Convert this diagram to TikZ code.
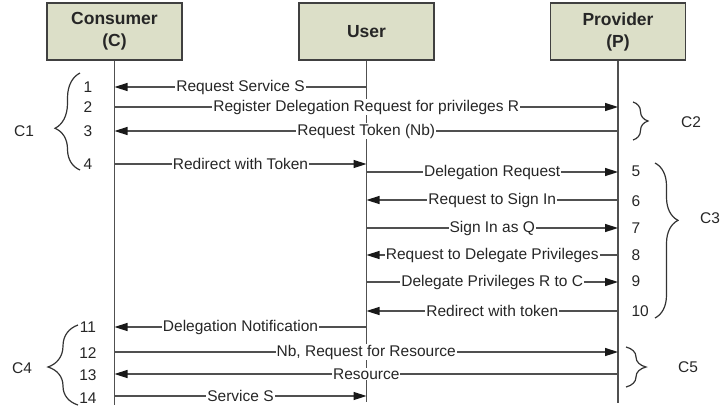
\documentclass[tikz,border=0pt]{standalone}
\usepackage{fontspec}
\setmainfont{Liberation Sans}
\usetikzlibrary{arrows.meta,decorations.pathreplacing}
\definecolor{boxfill}{RGB}{220,223,200}
\definecolor{linegray}{RGB}{80,80,80}
\begin{document}
\begin{tikzpicture}[x=1pt,y=-1pt,
  actor/.style={draw=black!75, line width=1.5pt, fill=boxfill, minimum width=135pt, minimum height=57pt, align=center, font=\fontsize{17.5}{22}\selectfont\bfseries, text=black!85},
  life/.style={draw=linegray, line width=1.5pt},
  msg/.style={draw=linegray, line width=1.5pt, -{Triangle[length=13pt,width=8pt,color=black!90]}},
  mlab/.style={fill=white, inner sep=1pt, font=\fontsize{15.5}{18}\selectfont, text=black!85},
  num/.style={font=\fontsize{15.5}{18}\selectfont, text=black!85},
  brc/.style={draw=black!80, line width=1.2pt, decorate},
  grp/.style={font=\fontsize{15.5}{18}\selectfont, text=black!85}
]
\useasboundingbox (0,0) rectangle (726,413);
\node[actor] (cons) at (114.5,31.5) {Consumer\\(C)};
\node[actor] (user) at (366.5,31.5) {User};
\node[actor] (prov) at (618,31.5) {Provider\\(P)};
\coordinate (consE) at (114.5,405);
\coordinate (userE) at (366.5,402);
\coordinate (provE) at (618,403);
\draw[life] (cons) -- (consE);
\draw[life] (user) -- (userE);
\draw[life] (prov) -- (provE);
\foreach \i/\y/\a/\b/\t in {
  1/87/U/C/Request Service S,
  2/107/C/P/Register Delegation Request for privileges R,
  3/131/P/C/Request Token (Nb),
  4/164/C/U/Redirect with Token,
  5/172/U/P/Delegation Request,
  6/200/P/U/Request to Sign In,
  7/228/U/P/Sign In as Q,
  8/255/P/U/Request to Delegate Privileges,
  9/282/U/P/Delegate Privileges R to C,
  10/311/P/U/Redirect with token,
  11/327/U/C/Delegation Notification,
  12/352/C/P/{Nb, Request for Resource},
  13/374/P/C/Resource,
  14/396/C/U/Service S}{
  \coordinate (m\i C) at (114.5,\y);
  \coordinate (m\i U) at (366.5,\y);
  \coordinate (m\i P) at (618,\y);
  \draw[msg] (m\i\a) -- node[mlab] (l\i) {\t} (m\i\b);
}
\foreach \i/\y in {1/87,2/107,3/131,4/164,11/327,12/353,13/375,14/398}
  \node[num] (n\i) at (88,\y) {\i};
\foreach \i/\y in {5/171,6/201,7/228,8/255,9/281,10/311}
  \node[num, anchor=west] (n\i) at (628,\y) {\i};
\draw[brc, decoration={brace, amplitude=25pt, aspect=0.43}] (80,170) -- (80,73);
\draw[brc, decoration={brace, amplitude=15pt, aspect=0.5}] (633,102) -- (633,140);
\draw[brc, decoration={brace, amplitude=23pt, aspect=0.37}] (655,163) -- (655,318);
\draw[brc, decoration={brace, amplitude=30pt, aspect=0.475}] (78,405) -- (78,325);
\draw[brc, decoration={brace, amplitude=20pt, aspect=0.5}] (626,347) -- (626,387);
\node[grp] (g1) at (24,131) {C1};
\node[grp] (g2) at (691,122) {C2};
\node[grp] (g3) at (710,218) {C3};
\node[grp] (g4) at (22,368) {C4};
\node[grp] (g5) at (688,367) {C5};
\end{tikzpicture}
\end{document}
